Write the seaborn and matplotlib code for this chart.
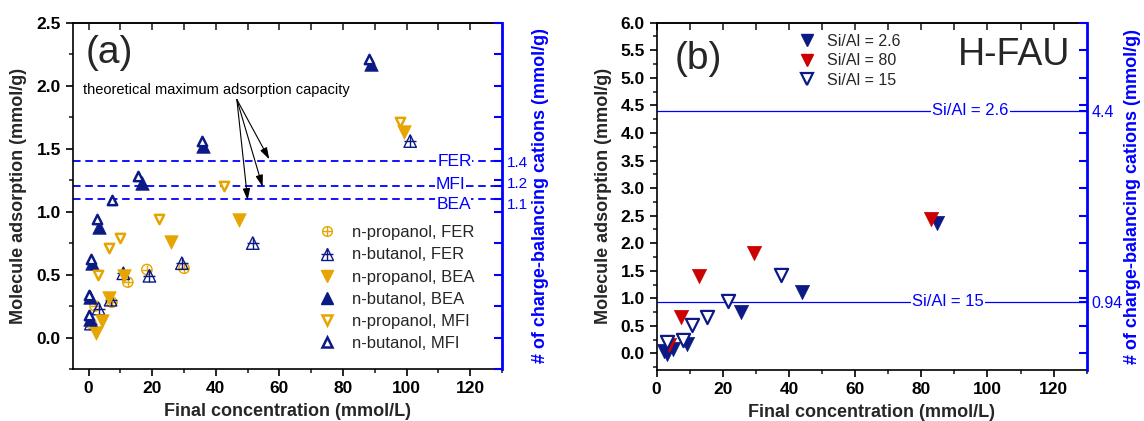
import numpy as np
import pandas as pd
import matplotlib
matplotlib.use("Agg")
import matplotlib.pyplot as plt
import matplotlib.transforms as mtransforms
from matplotlib.lines import Line2D
from matplotlib.ticker import MultipleLocator, FixedLocator, NullFormatter, FormatStrFormatter
import seaborn as sns

sns.set_theme(style="ticks")
plt.rcParams["font.family"] = ["Liberation Sans", "DejaVu Sans"]

NAVY = "#0b1a84"
GOLD = "#e6a500"
RED = "#cc0000"
BLUE = "#0000ff"

# ---- (a) zeolites FER / BEA / MFI ----
prop_fer_x = [30.0, 18.3, 12.3, 7.3, 2.0, 0.8]
prop_fer_y = [0.55, 0.54, 0.44, 0.28, 0.25, 0.11]
but_fer_x = [101.1, 51.6, 29.3, 19.1, 10.9, 6.9, 3.1, 0.7]
but_fer_y = [1.56, 0.75, 0.59, 0.49, 0.51, 0.30, 0.23, 0.11]
prop_bea_x = [99.2, 47.4, 25.9, 11.2, 6.5, 4.1, 2.3]
prop_bea_y = [1.635, 0.93, 0.76, 0.49, 0.31, 0.135, 0.035]
but_bea_x = [88.8, 36.1, 16.7, 3.4, 1.0, 0.3, 0.4]
but_bea_y = [2.17, 1.52, 1.23, 0.88, 0.59, 0.32, 0.15]
prop_mfi_x = [97.9, 42.4, 22.1, 9.9, 6.5, 2.9]
prop_mfi_y = [1.71, 1.20, 0.94, 0.79, 0.71, 0.50]
but_mfi_x = [88.0, 35.6, 15.6, 7.3, 2.5, 0.6, 0.0, 0.0]
but_mfi_y = [2.21, 1.56, 1.28, 1.09, 0.94, 0.62, 0.34, 0.18]

cap_names = ["FER", "MFI", "BEA"]
cap_values = [1.4, 1.2, 1.1]

# ---- (b) H-FAU ----
fau26_x = [84.8, 43.8, 25.4, 9.2, 5.0, 2.2, 3.0]
fau26_y = [2.36, 1.12, 0.76, 0.18, 0.08, 0.05, -0.01]
fau80_x = [82.8, 29.5, 12.9, 7.3, 3.8]
fau80_y = [2.44, 1.82, 1.40, 0.67, 0.15]
fau15_x = [37.6, 21.6, 15.1, 10.6, 7.9, 3.2]
fau15_y = [1.42, 0.95, 0.67, 0.51, 0.25, 0.20]

fau_names = ["Si/Al = 2.6", "Si/Al = 15"]
fau_cap = [4.4, 0.94]

fig = plt.figure(figsize=(11.44, 4.21), dpi=100)
ax1 = fig.add_axes([0.0636, 0.1235, 0.3753, 0.8226])
ax2 = fig.add_axes([0.5740, 0.1211, 0.3759, 0.8250])

TICK_FS = 12.5
LABEL_FS = 13


def scatter(ax, x, y, marker, s, face, edge, lw, z):
    sns.scatterplot(x=x, y=y, ax=ax, marker=marker, s=s, facecolor=face,
                    edgecolor=edge, linewidth=lw, zorder=z, legend=False)


def style_axes(ax, xlim, ylim, ymajor, yminor, rminor, ycap, ycap_labels,
               ylabel_x, rlabel_x):
    ax.set_xlim(*xlim)
    ax.set_ylim(*ylim)
    ax.xaxis.set_major_locator(MultipleLocator(20))
    ax.xaxis.set_minor_locator(MultipleLocator(10))
    ax.yaxis.set_major_locator(MultipleLocator(ymajor))
    ax.yaxis.set_minor_locator(MultipleLocator(yminor))
    ax.yaxis.set_major_formatter(FormatStrFormatter("%.1f"))
    ax.tick_params(axis="both", which="major", direction="out", length=5, width=1.2,
                   labelsize=TICK_FS, colors="black", right=False, top=False)
    ax.tick_params(axis="both", which="minor", direction="out", length=3, width=1.2,
                   right=False, top=False)
    for lab in ax.get_xticklabels() + ax.get_yticklabels():
        lab.set_fontweight("bold")
    for sp in ["left", "bottom", "top"]:
        ax.spines[sp].set_linewidth(1.2)
        ax.spines[sp].set_color("black")
    ax.spines["right"].set_visible(False)
    ax.set_xlabel("Final concentration (mmol/L)", fontsize=LABEL_FS, fontweight="bold")
    ax.set_ylabel("Molecule adsorption (mmol/g)", fontsize=LABEL_FS, fontweight="bold")
    ax.xaxis.set_label_coords(0.5, -0.098)
    ax.yaxis.set_label_coords(ylabel_x, 0.5)

    top = ax.secondary_xaxis("top")
    top.set_xticks(np.arange(0, 121, 10))
    top.tick_params(direction="in", length=5, width=1.2, labeltop=False)
    top.spines["top"].set_linewidth(1.2)

    axr = ax.twinx()
    axr.set_ylim(*ylim)
    axr.yaxis.set_major_locator(FixedLocator(ycap))
    axr.set_yticklabels(ycap_labels)
    axr.yaxis.set_minor_locator(FixedLocator(rminor))
    axr.yaxis.set_minor_formatter(NullFormatter())
    axr.tick_params(axis="y", which="both", direction="in", length=6, width=1.5,
                    colors=BLUE, labelsize=11.5)
    for sp in ["left", "top", "bottom"]:
        axr.spines[sp].set_visible(False)
    axr.spines["right"].set_color(BLUE)
    axr.spines["right"].set_linewidth(2.0)
    axr.set_ylabel("# of charge-balancing cations (mmol/g)", fontsize=LABEL_FS,
                   fontweight="bold", color=BLUE)
    axr.yaxis.set_label_coords(rlabel_x, 0.5)
    axr.grid(False)
    return axr


# ---------------- panel (a) ----------------
for name, v in zip(cap_names, cap_values):
    ax1.axhline(v, color=BLUE, lw=1.3, linestyle=(0, (4.2, 2.6)), zorder=1)
label_pos = {"FER": (115.0, 1.40), "MFI": (113.7, 1.215), "BEA": (114.7, 1.06)}
for name in cap_names:
    x, y = label_pos[name]
    ax1.text(x, y, name, color=BLUE, fontsize=12.5, ha="center", va="center", zorder=2,
             bbox=dict(facecolor="white", edgecolor="none", pad=0.5))

scatter(ax1, prop_fer_x, prop_fer_y, "o", 55, "none", GOLD, 1.0, 3)
scatter(ax1, prop_fer_x, prop_fer_y, "+", 55, GOLD, GOLD, 1.0, 3)
scatter(ax1, but_fer_x, but_fer_y, "^", 80, "none", NAVY, 1.0, 4)
scatter(ax1, but_fer_x, but_fer_y, "+", 85, NAVY, NAVY, 1.0, 4)
scatter(ax1, prop_bea_x, prop_bea_y, "v", 95, GOLD, GOLD, 0.5, 5)
scatter(ax1, but_bea_x, but_bea_y, "^", 95, NAVY, NAVY, 0.5, 6)
scatter(ax1, prop_mfi_x, prop_mfi_y, "v", 45, "white", GOLD, 1.8, 7)
scatter(ax1, but_mfi_x, but_mfi_y, "^", 45, "white", NAVY, 1.8, 8)

ax1.text(-1.9, 1.965, "theoretical maximum adsorption capacity", fontsize=10.5,
         ha="left", va="center", color="black")
for tip in [(56.8, 1.415), (54.7, 1.197), (50.0, 1.09)]:
    ax1.annotate("", xy=tip, xytext=(46.6, 1.89),
                 arrowprops=dict(arrowstyle="-|>,head_length=0.7,head_width=0.22",
                                 color="black", lw=0.8, mutation_scale=10,
                                 shrinkA=0, shrinkB=0))

ax1.text(0.029, 0.912, "(a)", transform=ax1.transAxes, fontsize=28,
         ha="left", va="center")

handles_a = [
    (Line2D([], [], ls="", marker="o", ms=7, mfc="none", mec=GOLD, mew=1.0),
     Line2D([], [], ls="", marker="+", ms=7, color=GOLD, mew=1.0)),
    (Line2D([], [], ls="", marker="^", ms=8, mfc="none", mec=NAVY, mew=1.0),
     Line2D([], [], ls="", marker="+", ms=8.5, color=NAVY, mew=1.0)),
    Line2D([], [], ls="", marker="v", ms=9, mfc=GOLD, mec=GOLD),
    Line2D([], [], ls="", marker="^", ms=9, mfc=NAVY, mec=NAVY),
    Line2D([], [], ls="", marker="v", ms=6.5, mfc="white", mec=GOLD, mew=1.8),
    Line2D([], [], ls="", marker="^", ms=6.5, mfc="white", mec=NAVY, mew=1.8),
]
labels_a = ["n-propanol, FER", "n-butanol, FER", "n-propanol, BEA",
            "n-butanol, BEA", "n-propanol, MFI", "n-butanol, MFI"]
ax1.legend(handles_a, labels_a, loc="upper left", bbox_to_anchor=(0.568, 0.415),
           frameon=False, fontsize=12, handlelength=1.2, handletextpad=0.9,
           labelspacing=0.43, borderaxespad=0, borderpad=0)

axr1 = style_axes(ax1, (-5, 130), (-0.25, 2.5), 0.5, 0.25,
                  np.arange(-0.25, 2.51, 0.25), cap_values,
                  ["1.4", "1.2", "1.1"], -0.106, 1.070)
# the 1.2 and 1.1 labels sit close together: nudge them apart slightly
axr1.tick_params(axis="y", which="major", labelsize=11)
for lab, dy in zip(axr1.get_yticklabels(), [0, 3, -3]):
    lab.set_transform(lab.get_transform() +
                      mtransforms.ScaledTranslation(0, dy / 72, fig.dpi_scale_trans))

# ---------------- panel (b) ----------------
for v in fau_cap:
    ax2.axhline(v, color=BLUE, lw=0.9, zorder=1)
ax2.text(94.9, 4.4, fau_names[0], color=BLUE, fontsize=12, ha="center", va="center",
         zorder=2, bbox=dict(facecolor="white", edgecolor="none", pad=1.0))
ax2.text(88.1, 0.94, fau_names[1], color=BLUE, fontsize=12, ha="center", va="center",
         zorder=2, bbox=dict(facecolor="white", edgecolor="none", pad=1.0))

scatter(ax2, fau26_x, fau26_y, "v", 105, NAVY, NAVY, 0.5, 4)
scatter(ax2, fau80_x, fau80_y, "v", 105, RED, RED, 0.5, 5)
scatter(ax2, fau15_x, fau15_y, "v", 90, "white", NAVY, 1.6, 6)

ax2.text(0.0426, 0.895, "(b)", transform=ax2.transAxes, fontsize=28,
         ha="left", va="center")
ax2.text(0.961, 0.907, "H-FAU", transform=ax2.transAxes, fontsize=27,
         ha="right", va="center")

handles_b = [
    Line2D([], [], ls="", marker="v", ms=9, mfc=NAVY, mec=NAVY),
    Line2D([], [], ls="", marker="v", ms=9, mfc=RED, mec=RED),
    Line2D([], [], ls="", marker="v", ms=8.5, mfc="white", mec=NAVY, mew=1.6),
]
ax2.legend(handles_b, ["Si/Al = 2.6", "Si/Al = 80", "Si/Al = 15"], loc="upper left",
           bbox_to_anchor=(0.33, 0.968), frameon=False, fontsize=11.5,
           handlelength=1.0, handletextpad=0.8, labelspacing=0.28,
           borderaxespad=0, borderpad=0)

axr2 = style_axes(ax2, (0, 130), (-0.3, 6.0), 0.5, 0.25,
                  np.arange(0, 6.01, 0.5), fau_cap,
                  ["4.4", "0.94"], -0.104, 1.086)

fig.savefig("out.png", dpi=100)
